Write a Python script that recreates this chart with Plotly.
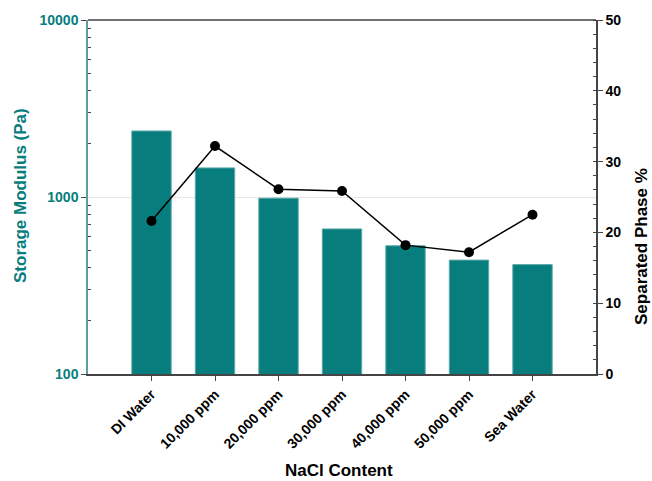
import plotly.graph_objects as go

categories = ["DI Water", "10,000 ppm", "20,000 ppm", "30,000 ppm", "40,000 ppm", "50,000 ppm", "Sea Water"]
storage_modulus = [2360, 1460, 985, 660, 530, 440, 415]
separated_phase = [21.6, 32.2, 26.1, 25.85, 18.2, 17.2, 22.5]

TEAL = "#077d7d"
FONT = "Liberation Sans, Arial, sans-serif"

fig = go.Figure()
fig.add_trace(go.Bar(
    x=categories, y=storage_modulus, marker=dict(color=TEAL, line=dict(color="#5aa8a8", width=1)),
    width=0.62, yaxis="y", showlegend=False,
))
fig.add_trace(go.Scatter(
    x=categories, y=separated_phase, mode="lines+markers", yaxis="y2",
    line=dict(color="black", width=1.5), marker=dict(color="black", size=10),
    showlegend=False,
))

fig.update_layout(
    width=652, height=481,
    margin=dict(l=88, r=56, t=20, b=107),
    paper_bgcolor="white", plot_bgcolor="white",
    font=dict(family=FONT, size=12, color="black"),
    xaxis=dict(
        range=[-1, 7], tickangle=-45, showline=True, linecolor="#444", linewidth=1.5,
        ticks="outside", ticklen=5, tickcolor="#444", mirror=False, automargin=False,
        tickfont=dict(family=FONT, size=14, color="black", weight="bold"),
    ),
    yaxis=dict(
        type="log", range=[2, 4], tickvals=[100, 1000, 10000], ticktext=["100", "1000", "10000"],
        showline=True, linecolor="#5f9ea0", linewidth=1.5, automargin=False,
        ticks="outside", ticklen=5, tickcolor="#444",
        showgrid=True, gridcolor="#e6e6e6", gridwidth=1,
        minor=dict(ticks="inside", ticklen=3, tickcolor="#444", showgrid=False,
                   tickvals=[200, 300, 400, 500, 600, 700, 800, 900, 2000, 3000, 4000, 5000, 6000, 7000, 8000, 9000]),
        tickfont=dict(family=FONT, size=14, color=TEAL, weight="bold"),
        zeroline=False,
    ),
    yaxis2=dict(
        overlaying="y", side="right", range=[0, 50], dtick=10, automargin=False,
        showline=True, linecolor="#444", linewidth=1.5,
        ticks="outside", ticklen=5, tickcolor="#444", showgrid=False, zeroline=False,
        minor=dict(ticks="inside", ticklen=3, tickcolor="#444", dtick=2, showgrid=False),
        tickfont=dict(family=FONT, size=14, color="black", weight="bold"),
    ),
    shapes=[dict(type="line", xref="paper", yref="paper", x0=0, x1=1, y0=1, y1=1,
                 line=dict(color="#444", width=1.5))],
    annotations=[
        dict(text="<b>NaCl Content</b>", xref="paper", yref="paper", x=(339 - 88) / 508, y=-(470 - 374) / 354,
             showarrow=False, xanchor="center", yanchor="middle", font=dict(family=FONT, size=17, color="black")),
        dict(text="<b>Storage Modulus (Pa)</b>", xref="paper", yref="paper", x=-(88 - 20) / 508, y=(374 - 196) / 354,
             showarrow=False, xanchor="center", yanchor="middle", textangle=-90,
             font=dict(family=FONT, size=17, color=TEAL)),
        dict(text="<b>Separated Phase %</b>", xref="paper", yref="paper", x=1 + (642 - 596) / 508, y=(374 - 247) / 354,
             showarrow=False, xanchor="center", yanchor="middle", textangle=-90,
             font=dict(family=FONT, size=17, color="black")),
    ],
)

fig.write_html("out.html")
